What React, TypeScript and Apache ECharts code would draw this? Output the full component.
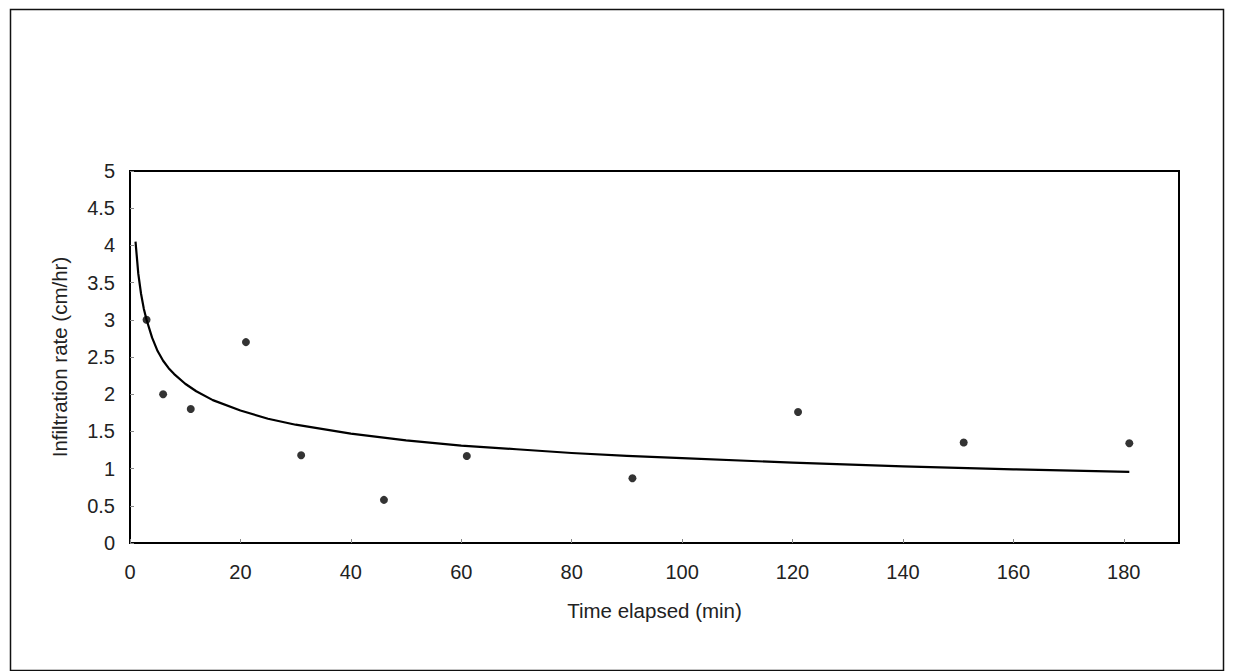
import React, { useEffect, useRef } from "react";
import * as echarts from "echarts";

// Measured infiltration rate (cm/hr) at elapsed time (min)
const timeObs = [3, 6, 11, 21, 31, 46, 61, 91, 121, 151, 181];
const rateObs = [3.0, 2.0, 1.8, 2.7, 1.18, 0.58, 1.17, 0.87, 1.76, 1.35, 1.34];

// Fitted trend curve
const timeFit = [1, 1.5, 2, 2.5, 3, 4, 5, 6, 7, 8, 10, 12, 15, 20, 25, 30, 40, 50, 60, 70, 80, 90, 100, 120, 140, 160, 181];
const rateFit = [4.05, 3.62, 3.35, 3.15, 3.0, 2.76, 2.58, 2.45, 2.35, 2.27, 2.14, 2.04, 1.92, 1.78, 1.67, 1.59, 1.47, 1.38, 1.31, 1.26, 1.21, 1.17, 1.14, 1.08, 1.03, 0.99, 0.955];

const xTicks = [0, 20, 40, 60, 80, 100, 120, 140, 160, 180];

const FONT = "'Liberation Sans', Arial, sans-serif";

export default function App() {
  const ref = useRef<HTMLDivElement>(null);
  useEffect(() => {
    if (!ref.current) return;
    const chart = echarts.init(ref.current, null, { renderer: "svg" });
    chart.setOption({
      animation: false,
      backgroundColor: "#fff",
      textStyle: { fontFamily: FONT },
      graphic: [
        {
          type: "rect",
          left: 8,
          top: 7,
          shape: { x: 0, y: 0, width: 1213, height: 661 },
          style: { fill: "none", stroke: "#111", lineWidth: 1.5 },
          z: 0,
        },
      ],
      grid: {
        left: 130,
        right: 58,
        top: 171,
        bottom: 128,
        show: true,
        borderColor: "#000",
        borderWidth: 2,
        backgroundColor: "#fff",
      },
      xAxis: {
        type: "value",
        min: 0,
        max: 190,
        interval: 20,
        name: "Time elapsed (min)",
        nameLocation: "middle",
        nameGap: 57,
        nameTextStyle: { fontSize: 20.5, color: "#222", fontFamily: FONT },
        axisLine: { show: true, lineStyle: { color: "#000", width: 2 } },
        axisTick: { show: true, inside: true, length: 4, lineStyle: { color: "#888" } },
        axisLabel: {
          fontSize: 20,
          color: "#222",
          margin: 19,
          fontFamily: FONT,
          showMaxLabel: false,
          formatter: (v: number) => (xTicks.includes(v) ? String(v) : ""),
        },
        splitLine: { show: false },
      },
      yAxis: {
        type: "value",
        min: 0,
        max: 5,
        interval: 0.5,
        name: "Infiltration rate (cm/hr)",
        nameLocation: "middle",
        nameGap: 60,
        nameRotate: 90,
        nameTextStyle: { fontSize: 20.5, color: "#222", fontFamily: FONT },
        axisLine: { show: true, lineStyle: { color: "#000", width: 2 } },
        axisTick: { show: true, inside: true, length: 4, lineStyle: { color: "#888" } },
        axisLabel: { fontSize: 20, color: "#222", margin: 15, fontFamily: FONT },
        splitLine: { show: false },
      },
      series: [
        {
          type: "line",
          data: timeFit.map((t, i) => [t, rateFit[i]]),
          smooth: false,
          showSymbol: false,
          lineStyle: { color: "#000", width: 2.2, join: "round" },
          z: 2,
        },
        {
          type: "scatter",
          data: timeObs.map((t, i) => [t, rateObs[i]]),
          symbol: "circle",
          symbolSize: 8,
          itemStyle: { color: "#000" },
          z: 3,
        },
      ],
    });
    return () => chart.dispose();
  }, []);
  return (
    <div
      ref={ref}
      style={{ position: "fixed", left: 0, top: 0, width: 1237, height: 671, background: "#fff" }}
    />
  );
}
